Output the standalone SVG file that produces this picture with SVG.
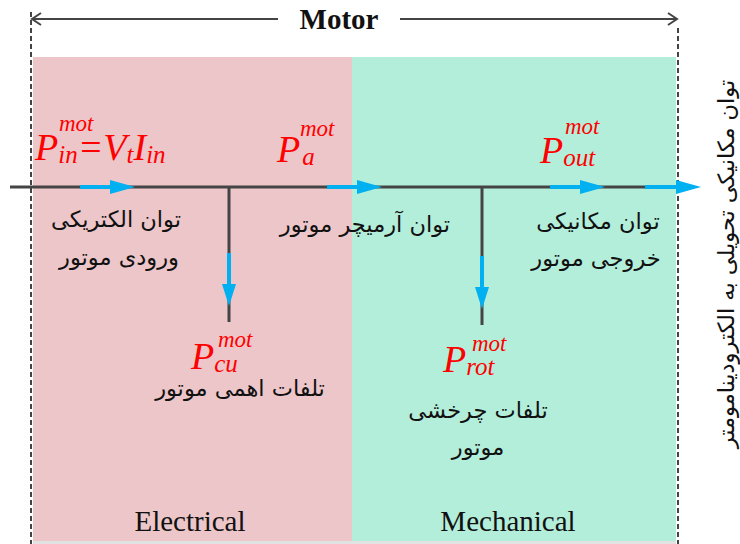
<svg xmlns="http://www.w3.org/2000/svg" width="740" height="544" viewBox="0 0 740 544">
<defs>
<style>
.math{font-family:"Liberation Serif",serif;font-style:italic;fill:#ff0000}
.big{font-size:38px}
.sup{font-size:23px}
.sub{font-size:25px}
.fa{font-family:"DejaVu Sans",sans-serif;font-size:22.5px;fill:#111;text-anchor:middle}
.en{font-family:"Liberation Serif",serif;font-size:29px;fill:#111;text-anchor:middle}
.main{stroke:#444;stroke-width:3;fill:none}
.blue{stroke:#00b0f0;stroke-width:4;fill:none}
.dash{stroke:#444;stroke-width:2;stroke-dasharray:5,3;fill:none}
</style>
<marker id="openArrow" markerWidth="12" markerHeight="14" refX="10" refY="7" orient="auto" markerUnits="userSpaceOnUse">
<path d="M1,1 L10,7 L1,13" fill="none" stroke="#444" stroke-width="2"/>
</marker>
</defs>
<rect width="740" height="544" fill="#fff"/>
<g id="regions">
<rect x="33" y="57" width="320" height="484" fill="#ecc6c9"/>
<rect x="352" y="57" width="324" height="484" fill="#b3eedb"/>
<rect x="33" y="541" width="643" height="3" fill="#e2e2e2"/>
</g>
<g id="frame">
<line class="dash" x1="31" y1="12" x2="31" y2="544"/>
<line class="dash" x1="678" y1="28" x2="678" y2="544"/>
<line x1="200" y1="19" x2="32" y2="19" stroke="#444" stroke-width="2" marker-end="url(#openArrow)"/>
<line x1="470" y1="19" x2="677" y2="19" stroke="#444" stroke-width="2" marker-end="url(#openArrow)"/>
<line x1="200" y1="19" x2="278" y2="19" stroke="#444" stroke-width="2"/>
<line x1="400" y1="19" x2="470" y2="19" stroke="#444" stroke-width="2"/>
<text x="339" y="29" font-family="Liberation Serif,serif" font-weight="bold" font-size="29" text-anchor="middle" fill="#111">Motor</text>
</g>
<g id="connectors">
<line class="main" x1="10" y1="187" x2="650" y2="187"/>
<line class="main" x1="229" y1="187" x2="229" y2="322"/>
<line class="main" x1="482" y1="187" x2="482" y2="325"/>
<line class="blue" x1="80" y1="187" x2="115" y2="187"/>
<polygon points="110,180 135,187 110,194" fill="#00b0f0"/>
<line class="blue" x1="327" y1="187" x2="362" y2="187"/>
<polygon points="357,180 382,187 357,194" fill="#00b0f0"/>
<line class="blue" x1="550" y1="187" x2="585" y2="187"/>
<polygon points="580,180 605,187 580,194" fill="#00b0f0"/>
<line class="blue" x1="645" y1="187" x2="680" y2="187"/>
<polygon points="676,180 701,187 676,194" fill="#00b0f0"/>
<line class="blue" x1="229" y1="253" x2="229" y2="288"/>
<polygon points="222,284 229,306 236,284" fill="#00b0f0"/>
<line class="blue" x1="482" y1="256" x2="482" y2="291"/>
<polygon points="475,287 482,309 489,287" fill="#00b0f0"/>
</g>
<g id="p-in">
<text class="math" x="35" y="160"><tspan class="big">P</tspan><tspan class="sub" dy="3">in</tspan><tspan class="big" dy="-3">=V</tspan><tspan class="sub" dy="3">t</tspan><tspan class="big" dy="-3">I</tspan><tspan class="sub" dy="3">in</tspan><tspan class="sup" x="59" y="131">mot</tspan></text>
<text class="fa" x="116" y="227">توان الکتریکی</text>
<text class="fa" x="119" y="265">ورودی موتور</text>
</g>
<g id="p-a">
<text class="math" x="277" y="162"><tspan class="big">P</tspan><tspan class="sub" dx="2" dy="3">a</tspan><tspan class="sup" x="300" y="136">mot</tspan></text>
<text class="fa" x="365" y="232">توان آرمیچر موتور</text>
</g>
<g id="p-out">
<text class="math" x="540" y="163"><tspan class="big">P</tspan><tspan class="sub" dy="3">out</tspan><tspan class="sup" x="565" y="134">mot</tspan></text>
<text class="fa" x="598" y="229">توان مکانیکی</text>
<text class="fa" x="596" y="266">خروجی موتور</text>
</g>
<g id="p-cu">
<text class="math" x="191" y="369"><tspan class="big">P</tspan><tspan class="sub" dy="3">cu</tspan><tspan class="sup" x="218" y="347">mot</tspan></text>
<text class="fa" x="240" y="396">تلفات اهمی موتور</text>
</g>
<g id="p-rot">
<text class="math" x="443" y="372"><tspan class="big">P</tspan><tspan class="sub" dy="3">rot</tspan><tspan class="sup" x="472" y="351">mot</tspan></text>
<text class="fa" x="478" y="418">تلفات چرخشی</text>
<text class="fa" x="478" y="455">موتور</text>
</g>
<g id="output-label">
<text class="fa" transform="translate(734,264) rotate(-90)">توان مکانیکی تحویلی به الکترودینامومتر</text>
</g>
<g id="bottom-labels">
<text class="en" x="190" y="531">Electrical</text>
<text class="en" x="508" y="531">Mechanical</text>
</g>
</svg>
